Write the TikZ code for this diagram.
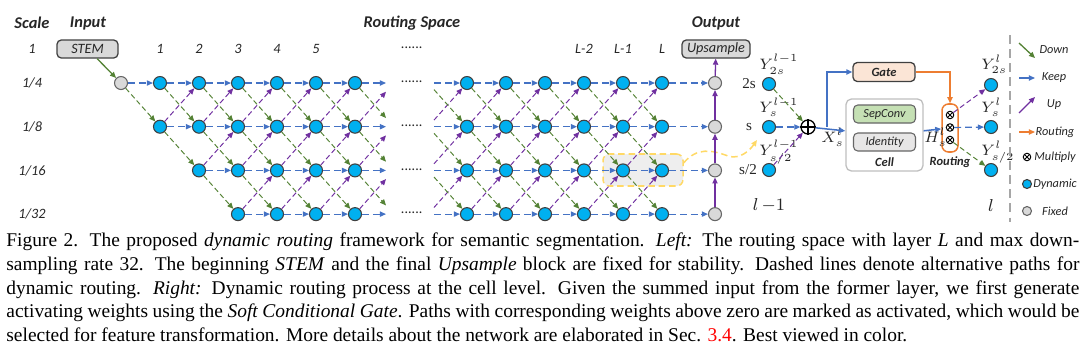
\documentclass[tikz,border=0pt]{standalone}
\usepackage{fontspec}
\setmainfont{Liberation Serif}
\newfontfamily\cali{Carlito}
\usetikzlibrary{arrows.meta,calc}
\definecolor{keepblue}{HTML}{4472C4}
\definecolor{downgreen}{HTML}{548235}
\definecolor{uppurple}{HTML}{7030A0}
\definecolor{routorange}{HTML}{ED7D31}
\definecolor{dyn}{HTML}{00B0F0}
\definecolor{nodeborder}{HTML}{404040}
\definecolor{fixgray}{HTML}{D9D9D9}
\definecolor{gatefill}{HTML}{FBE5D6}
\definecolor{sepfill}{HTML}{C5E0B4}
\definecolor{idfill}{HTML}{E7E6E6}
\definecolor{hlfill}{HTML}{EEEEEE}
\definecolor{hlyellow}{HTML}{FFD966}
\definecolor{txt}{HTML}{262626}
\begin{document}
\begin{tikzpicture}[x=0.463pt,y=-0.463pt,
  tip/.style={-{Triangle[length=2.8pt,width=2.4pt]}},
  dynnode/.style={circle,fill=dyn,draw=nodeborder,line width=0.5pt,minimum size=13*0.463pt,inner sep=0pt},
  fixnode/.style={circle,fill=fixgray,draw=nodeborder!80,line width=0.5pt,minimum size=13*0.463pt,inner sep=0pt},
  keepe/.style={draw=keepblue,line width=0.55pt,dash pattern=on 3.2pt off 1.8pt,tip},
  downe/.style={draw=downgreen,line width=0.45pt,dash pattern=on 2.4pt off 1.4pt,tip},
  upe/.style={draw=uppurple,line width=0.45pt,dash pattern=on 2.4pt off 1.4pt,tip},
  keeps/.style={draw=keepblue,line width=0.7pt,tip},
  downs/.style={draw=downgreen,line width=0.6pt,tip},
  ups/.style={draw=uppurple,line width=0.6pt,tip},
  routs/.style={draw=routorange,line width=0.7pt,tip},
  head/.style={font=\cali\bfseries\itshape\fontsize{7.6}{9}\selectfont,text=txt},
  lbl/.style={font=\cali\itshape\fontsize{6.6}{8}\selectfont,text=txt},
  small/.style={font=\cali\itshape\fontsize{5.7}{7}\selectfont,text=txt},
  smallb/.style={font=\cali\bfseries\itshape\fontsize{5.8}{7}\selectfont,text=txt},
  serif/.style={font=\fontsize{7}{8}\selectfont,text=txt},
  ylab/.style={serif,anchor=base west,inner sep=0pt},
  blockbox/.style={rectangle,rounded corners=2pt,fill=fixgray,draw=nodeborder,line width=0.6pt,minimum height=18*0.463pt,inner sep=0pt,lbl},
  mult/.style={circle,draw=black,line width=0.45pt,minimum size=7.5*0.463pt,inner sep=0pt,
    path picture={\draw[line width=0.45pt] (path picture bounding box.north west) -- (path picture bounding box.south east)
      (path picture bounding box.north east) -- (path picture bounding box.south west);}}
]
\useasboundingbox (0,0) rectangle (1080,362);

% ---------- headers ----------
\node[head] (hscale) at (32,23) {Scale};
\node[head] (hinput) at (88,23) {Input};
\node[head] (hroute) at (412,23) {Routing Space};
\node[head] (hout) at (716,23) {Output};

\node[lbl] (s1) at (32,49) {1};
\node[lbl] (s4) at (32,83) {1/4};
\node[lbl] (s8) at (32,127) {1/8};
\node[lbl] (s16) at (32,171) {1/16};
\node[lbl] (s32) at (32,214) {1/32};

\foreach \c in {1,...,5}{ \node[lbl] (cl-\c) at ({121+39*\c},49) {\c}; }
\node[lbl] (cdots) at (412,48) {......};
\node[lbl] (cl-L2) at (584,49) {L-2};
\node[lbl] (cl-L1) at (623,49) {L-1};
\node[lbl] (cl-L) at (662,49) {L};
\foreach \r in {0,...,3}{ \node[lbl] (rdots-\r) at (412,{82+43.7*\r}) {......}; }

% ---------- highlight ----------
\node[rectangle,rounded corners=3pt,fill=hlfill,draw=hlyellow,line width=0.7pt,dash pattern=on 3pt off 1.8pt,
  minimum width=80*0.463pt,minimum height=32*0.463pt,inner sep=0pt] (hl) at (643,170) {};
\coordinate (yend) at (757,140);
\draw[draw=hlyellow,line width=0.7pt,dash pattern=on 3pt off 1.8pt,tip] (hl.10) .. controls (697,147) and (712,150) .. (728,156) .. controls (740,160) and (750,150) .. (yend);

% ---------- STEM / Upsample ----------
\node[blockbox,minimum width=61*0.463pt] (stem) at (87.5,49) {STEM};
\node[blockbox,minimum width=68*0.463pt] (ups) at (716,49) {Upsample};

% ---------- left block ----------
\node[fixnode] (n-0-0) at (121,83) {};
\foreach \c in {1,...,6}{
  \foreach \r in {0,...,3}{
    \ifnum\r>\c\relax\else
      \node[dynnode] (n-\c-\r) at ({121+39*\c},{83+43.7*\r}) {};
    \fi
  }
}
\draw[downs] (stem.-45) -- (n-0-0);
\foreach \c in {0,...,5}{
  \pgfmathtruncatemacro\cn{\c+1}
  \pgfmathtruncatemacro\rmax{min(\c,3)}
  \foreach \r in {0,...,\rmax}{
    \draw[keepe] (n-\c-\r) -- (n-\cn-\r);
    \ifnum\r<3 \pgfmathtruncatemacro\rd{\r+1}\draw[downe] (n-\c-\r) -- (n-\cn-\rd);\fi
    \ifnum\r>0 \pgfmathtruncatemacro\ru{\r-1}\draw[upe] (n-\c-\r) -- (n-\cn-\ru);\fi
  }
}
\foreach \r in {0,...,3}{
  \coordinate (pk-\r) at (386,{83+43.7*\r});
  \draw[keepe] (n-6-\r) -- (pk-\r);
  \ifnum\r<3 \coordinate (pd-\r) at (386,{83+43.7*\r+35}); \draw[downe] (n-6-\r) -- (pd-\r);\fi
  \ifnum\r>0 \coordinate (pu-\r) at (386,{83+43.7*\r-35}); \draw[upe] (n-6-\r) -- (pu-\r);\fi
}

% ---------- right block ----------
\foreach \k in {1,...,6}{
  \foreach \r in {0,...,3}{
    \node[dynnode] (m-\k-\r) at ({467+39*(\k-1)},{83+43.7*\r}) {};
  }
}
\foreach \r in {0,...,3}{
  \coordinate (qk-\r) at (434,{83+43.7*\r});
  \draw[keepe] (qk-\r) -- (m-1-\r);
  \ifnum\r>0 \coordinate (qd-\r) at (434,{83+43.7*(\r-1)+6.6}); \draw[downe] (qd-\r) -- (m-1-\r);\fi
  \ifnum\r<3 \coordinate (qu-\r) at (434,{83+43.7*(\r+1)-6.6}); \draw[upe] (qu-\r) -- (m-1-\r);\fi
}
\foreach \k in {1,...,5}{
  \pgfmathtruncatemacro\kn{\k+1}
  \foreach \r in {0,...,3}{
    \draw[keepe] (m-\k-\r) -- (m-\kn-\r);
    \ifnum\r<3 \pgfmathtruncatemacro\rd{\r+1}\draw[downe] (m-\k-\r) -- (m-\kn-\rd);\fi
    \ifnum\r>0 \pgfmathtruncatemacro\ru{\r-1}\draw[upe] (m-\k-\r) -- (m-\kn-\ru);\fi
  }
}
% ---------- output column ----------
\foreach \r in {0,...,3}{
  \node[fixnode] (o-\r) at (715,{83+43.7*\r}) {};
  \draw[keepe] (m-6-\r) -- (o-\r);
}
\draw[ups] (o-3) -- (o-2);
\draw[ups] (o-2) -- (o-1);
\draw[ups] (o-1) -- (o-0);
\draw[ups] (o-0) -- (ups);

% ---------- cell level ----------
\node[dynnode] (yp2) at (769,84) {};
\node[dynnode] (yp1) at (769,127) {};
\node[dynnode] (yp0) at (769,170) {};
\node[serif] (l2s) at (749,84) {2s};
\node[serif] (ls) at (749,127) {s};
\node[serif] (ls2) at (748,170) {s/2};
\node[ylab] (typ2) at (759,69) {$Y^{l-1}_{2s}$};
\node[ylab] (typ1) at (759,112) {$Y^{l-1}_{s}$};
\node[ylab] (typ0) at (759,155) {$Y^{l-1}_{s/2}$};

\node[circle,draw=black,line width=0.6pt,minimum size=14*0.463pt,inner sep=0pt] (sum) at (808,127) {};
\draw[line width=0.6pt] (sum.north) -- (sum.south) (sum.west) -- (sum.east);
\draw[downe] (yp2) -- (sum);
\draw[keepe] (yp1) -- (sum);
\draw[upe] (yp0) -- (sum);
\node[ylab] (tx) at (821,142) {$X^{l}_{s}$};

\node[rectangle,rounded corners=2.5pt,draw=black!25,line width=0.6pt,fill=white,
  minimum width=77*0.463pt,minimum height=72*0.463pt,inner sep=0pt] (cell) at (884.5,135) {};
\node[rectangle,rounded corners=2pt,fill=sepfill,draw=nodeborder!80,line width=0.5pt,
  minimum width=62*0.463pt,minimum height=18*0.463pt,inner sep=0pt,small] (sep) at (884.5,114) {SepConv};
\node[rectangle,rounded corners=2pt,fill=idfill,draw=nodeborder!80,line width=0.5pt,
  minimum width=62*0.463pt,minimum height=18*0.463pt,inner sep=0pt,small] (idn) at (884.5,142) {Identity};
\node[smallb] (celllbl) at (884.5,162) {Cell};

\node[rectangle,rounded corners=2pt,fill=gatefill,draw=nodeborder,line width=0.6pt,
  minimum width=62*0.463pt,minimum height=19*0.463pt,inner sep=0pt,smallb] (gate) at (884,72) {Gate};

\coordinate (br) at (827,127);
\draw[keeps] (sum) -- (cell);
\draw[keeps] (br) |- (gate);

\node[rectangle,rounded corners=3pt,draw=routorange,line width=0.7pt,fill=white,
  minimum width=16*0.463pt,minimum height=48*0.463pt,inner sep=0pt] (rout) at (950,128) {};
\node[mult] (mu2) at (950,115) {};
\node[mult] (mu1) at (950,127.5) {};
\node[mult] (mu0) at (950,140) {};
\node[smallb] (routlbl) at (950,162) {Routing};
\draw[keeps] (cell) -- (rout);
\node[ylab] (th) at (924,142) {$H^{l}_{s}$};
\draw[routs] (gate.east) -| (rout.north);

\node[dynnode] (yo2) at (991,85) {};
\node[dynnode] (yo1) at (991,127) {};
\node[dynnode] (yo0) at (991,170) {};
\node[ylab] (tyo2) at (981,69) {$Y^{l}_{2s}$};
\node[ylab] (tyo1) at (981,112) {$Y^{l}_{s}$};
\node[ylab] (tyo0) at (981,155) {$Y^{l}_{s/2}$};
\draw[upe] (mu2) -- (yo2);
\draw[keepe] (mu1) -- (yo1);
\draw[downe] (mu0) -- (yo0);

\node[font=\fontsize{8}{9}\selectfont,text=txt] (lm1) at (769,205) {$l\,{-}1$};
\node[font=\fontsize{8}{9}\selectfont,text=txt] (lcur) at (991,205) {$l$};

% ---------- legend ----------
\draw[draw=black!35,line width=0.6pt,dash pattern=on 4pt off 2.5pt] (1010,35) -- (1010,222);
\coordinate (ld-a) at (1019,43); \coordinate (ld-b) at (1035,58);
\draw[downs] (ld-a) -- (ld-b);
\node[small] (tdown) at (1054,50) {Down};
\coordinate (lk-a) at (1019,78); \coordinate (lk-b) at (1035,78);
\draw[keeps,line width=0.6pt] (lk-a) -- (lk-b);
\node[small] (tkeep) at (1054,78) {Keep};
\coordinate (lu-a) at (1019,113); \coordinate (lu-b) at (1035,97);
\draw[ups] (lu-a) -- (lu-b);
\node[small] (tup) at (1054,105) {Up};
\coordinate (lr-a) at (1019,132); \coordinate (lr-b) at (1035,132);
\draw[routs,line width=0.6pt] (lr-a) -- (lr-b);
\node[small] (trout) at (1055,132) {Routing};
\node[mult] (lmult) at (1027,157) {};
\node[small] (tmult) at (1055,157) {Multiply};
\node[dynnode,minimum size=9*0.463pt] (ldyn) at (1027,184) {};
\node[small] (tdyn) at (1055,184) {Dynamic};
\node[fixnode,minimum size=9*0.463pt] (lfix) at (1027,211) {};
\node[small] (tfix) at (1055,211) {Fixed};

% ---------- caption ----------
\node[anchor=north west,inner sep=0pt,text width=1073*0.463pt,align=justify,
  font=\fontsize{9}{11}\selectfont,text=black] (cap) at (6,232.5) {%
Figure 2. The proposed \textit{dynamic routing} framework for semantic segmentation. \textit{Left:} The routing space with layer \textit{L} and max down-\linebreak
sampling rate 32. The beginning \textit{STEM} and the final \textit{Upsample} block are fixed for stability. Dashed lines denote alternative paths for\linebreak
dynamic routing. \textit{Right:} Dynamic routing process at the cell level. Given the summed input from the former layer, we first generate\linebreak
activating weights using the \textit{Soft Conditional Gate}. Paths with corresponding weights above zero are marked as activated, which would be\linebreak
selected for feature transformation. More details about the network are elaborated in Sec. \textcolor{red}{3.4}. Best viewed in color.};
\end{tikzpicture}
\end{document}
